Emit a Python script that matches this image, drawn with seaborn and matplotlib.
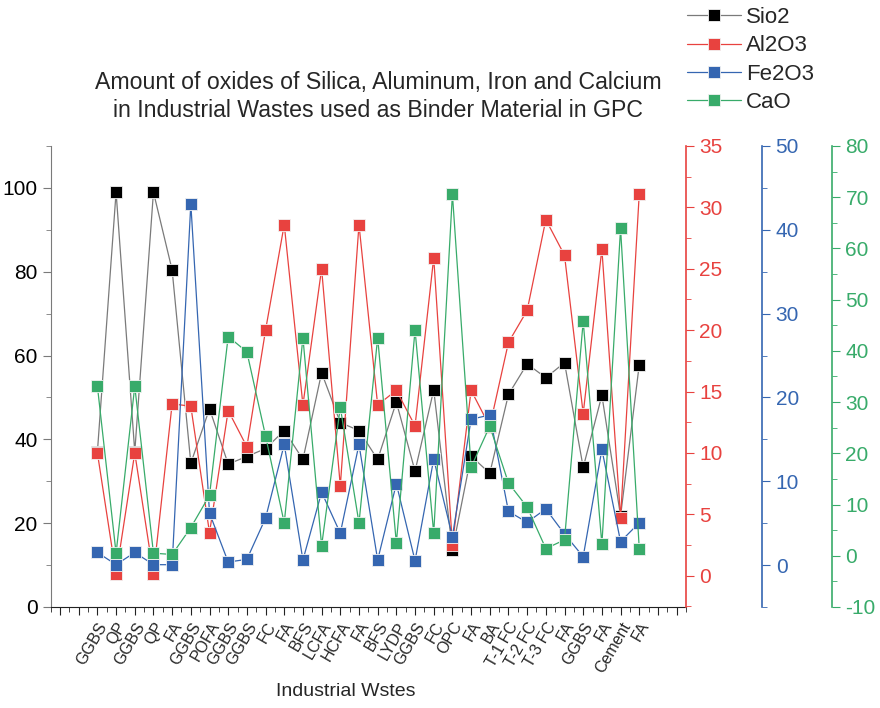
import matplotlib
matplotlib.use("Agg")
import matplotlib.pyplot as plt
from matplotlib.ticker import MultipleLocator, FixedLocator
import numpy as np
import pandas as pd
import seaborn as sns

# Oxide composition (%) of industrial wastes used as GPC binders
wastes = ["GGBS", "QP", "GGBS", "QP", "FA", "GGBS", "POFA", "GGBS", "GGBS", "FC",
          "FA", "BFS", "LCFA", "HCFA", "FA", "BFS", "LYDP", "GGBS", "FC", "OPC",
          "FA", "BA", "T-1 FC", "T-2 FC", "T-3 FC", "FA", "GGBS", "FA", "Cement", "FA"]
sio2 = [37.0, 99.0, 37.0, 99.0, 80.4, 34.3, 47.3, 34.1, 35.9, 37.8,
        42.1, 35.2, 55.9, 44.0, 42.1, 35.2, 48.9, 32.4, 51.8, 13.6,
        36.0, 31.9, 50.7, 58.0, 54.7, 58.3, 33.3, 50.5, 21.7, 57.8]
al2o3 = [10.0, 0.1, 10.0, 0.1, 14.0, 13.8, 3.5, 13.45, 10.5, 20.0,
         28.6, 13.9, 25.0, 7.3, 28.6, 13.9, 15.1, 12.2, 25.9, 2.5,
         15.1, 12.15, 19.0, 21.6, 29.0, 26.1, 13.2, 26.6, 4.7, 31.1]
fe2o3 = [1.5, 0.05, 1.5, 0.05, 0.04, 43.1, 6.2, 0.36, 0.68, 5.6,
         14.4, 0.6, 8.7, 3.8, 14.4, 0.6, 9.7, 0.52, 12.65, 3.4,
         17.4, 17.9, 6.4, 5.1, 6.7, 3.7, 1.0, 13.8, 2.8, 5.05]
cao = [33.1, 0.5, 33.1, 0.5, 0.25, 5.5, 11.8, 42.8, 39.8, 23.4,
       6.4, 42.6, 1.95, 29.0, 6.4, 42.6, 2.5, 44.1, 4.4, 70.6,
       17.3, 25.3, 14.2, 9.5, 1.4, 3.1, 45.8, 2.2, 63.9, 1.4]

df = pd.DataFrame({"pos": np.arange(1, len(wastes) + 1), "waste": wastes,
                   "Sio2": sio2, "Al2O3": al2o3, "Fe2O3": fe2o3, "CaO": cao})

sns.set_style("ticks")
plt.rcParams["font.family"] = ["Liberation Sans", "DejaVu Sans"]
plt.rcParams["axes.unicode_minus"] = False

RED = "#e8423f"
BLUE = "#3566b1"
GREEN = "#38ab6a"
GRAY = "#7a7a7a"

fig = plt.figure(figsize=(8.8, 7.08), dpi=100)
ax = fig.add_axes([0.0576, 0.1427, 0.7219, 0.6511])
ax_r = ax.twinx()
ax_b = ax.twinx()
ax_g = ax.twinx()

series = [
    (ax, "Sio2", GRAY, "black", (0, 110)),
    (ax_r, "Al2O3", RED, RED, (-2.55, 35)),
    (ax_b, "Fe2O3", BLUE, BLUE, (-5, 50)),
    (ax_g, "CaO", GREEN, GREEN, (-10, 80)),
]
for a, col, lc, mc, lim in series:
    sns.lineplot(data=df, x="pos", y=col, ax=a, sort=False, color=lc,
                 linewidth=0.9, marker="s", markersize=8.5,
                 markerfacecolor=mc, markeredgecolor="#f2f2f2",
                 markeredgewidth=0.6, label=col, legend=False)
    a.set_ylim(*lim)
    a.set_ylabel("")
    a.set_xlabel("")

ax.set_xlim(-1.5, 32.5)
for a in (ax_r, ax_b, ax_g):
    a.set_zorder(ax.get_zorder() + 1)
    for s in ("left", "top", "bottom"):
        a.spines[s].set_visible(False)

# left axis (SiO2)
for s in ("top", "right"):
    ax.spines[s].set_visible(False)
ax.spines["left"].set_color(GRAY)
ax.spines["bottom"].set_color("#222222")
ax.yaxis.set_major_locator(MultipleLocator(20))
ax.yaxis.set_minor_locator(MultipleLocator(10))
ax.tick_params(axis="y", which="both", direction="out", colors=GRAY,
               labelcolor="black", labelsize=15)
ax.tick_params(axis="y", which="major", length=6)
ax.tick_params(axis="y", which="minor", length=3.5)

# x axis: one tick per waste, half-step minor ticks
ax.xaxis.set_major_locator(FixedLocator(np.arange(-1, 33)))
ax.xaxis.set_minor_locator(FixedLocator(np.arange(-1.5, 33, 1.0)))
labels = ["" if (p < 1 or p > len(wastes)) else wastes[p - 1] for p in range(-1, 33)]
ax.set_xticklabels(labels, rotation=60, ha="right", rotation_mode="anchor",
                   fontsize=11.5)
ax.tick_params(axis="x", which="major", direction="out", length=6, color="#222222", pad=3)
ax.tick_params(axis="x", which="minor", direction="out", length=3.5, color="#222222")

# right axes
ax_b.spines["right"].set_position(("outward", 76.5 * 0.72))
ax_g.spines["right"].set_position(("outward", 146.3 * 0.72))
for a, c, maj, mnr in ((ax_r, RED, 5, 2.5), (ax_b, BLUE, 10, 5), (ax_g, GREEN, 10, 5)):
    a.spines["right"].set_color(c)
    a.spines["right"].set_linewidth(1.2)
    a.yaxis.set_major_locator(MultipleLocator(maj))
    a.yaxis.set_minor_locator(MultipleLocator(mnr))
    a.tick_params(axis="y", which="both", direction="out", colors=c, labelsize=15)
    a.tick_params(axis="y", which="major", length=6)
    a.tick_params(axis="y", which="minor", length=3.5)
ax_r.set_yticks(np.arange(0, 36, 5))
ax_b.set_yticks(np.arange(0, 51, 10))
ax_g.set_yticks(np.arange(-10, 81, 10))

fig.text(0.43, 0.864, "Amount of oxides of Silica, Aluminum, Iron and Calcium\n"
         "in Industrial Wastes used as Binder Material in GPC",
         ha="center", va="center", fontsize=16.7, linespacing=1.3)
fig.text(346 / 880, 0.0226, "Industrial Wstes", ha="center", va="center", fontsize=14)

handles = [a.get_lines()[0] for a, *_ in series]
fig.legend(handles, [s[1] for s in series], loc="upper left",
           bbox_to_anchor=(674 / 880, 1.009), frameon=False, fontsize=16,
           handlelength=2.4, handletextpad=0.25, labelspacing=0.33, borderpad=0.1)

fig.savefig("out.png", dpi=100)
